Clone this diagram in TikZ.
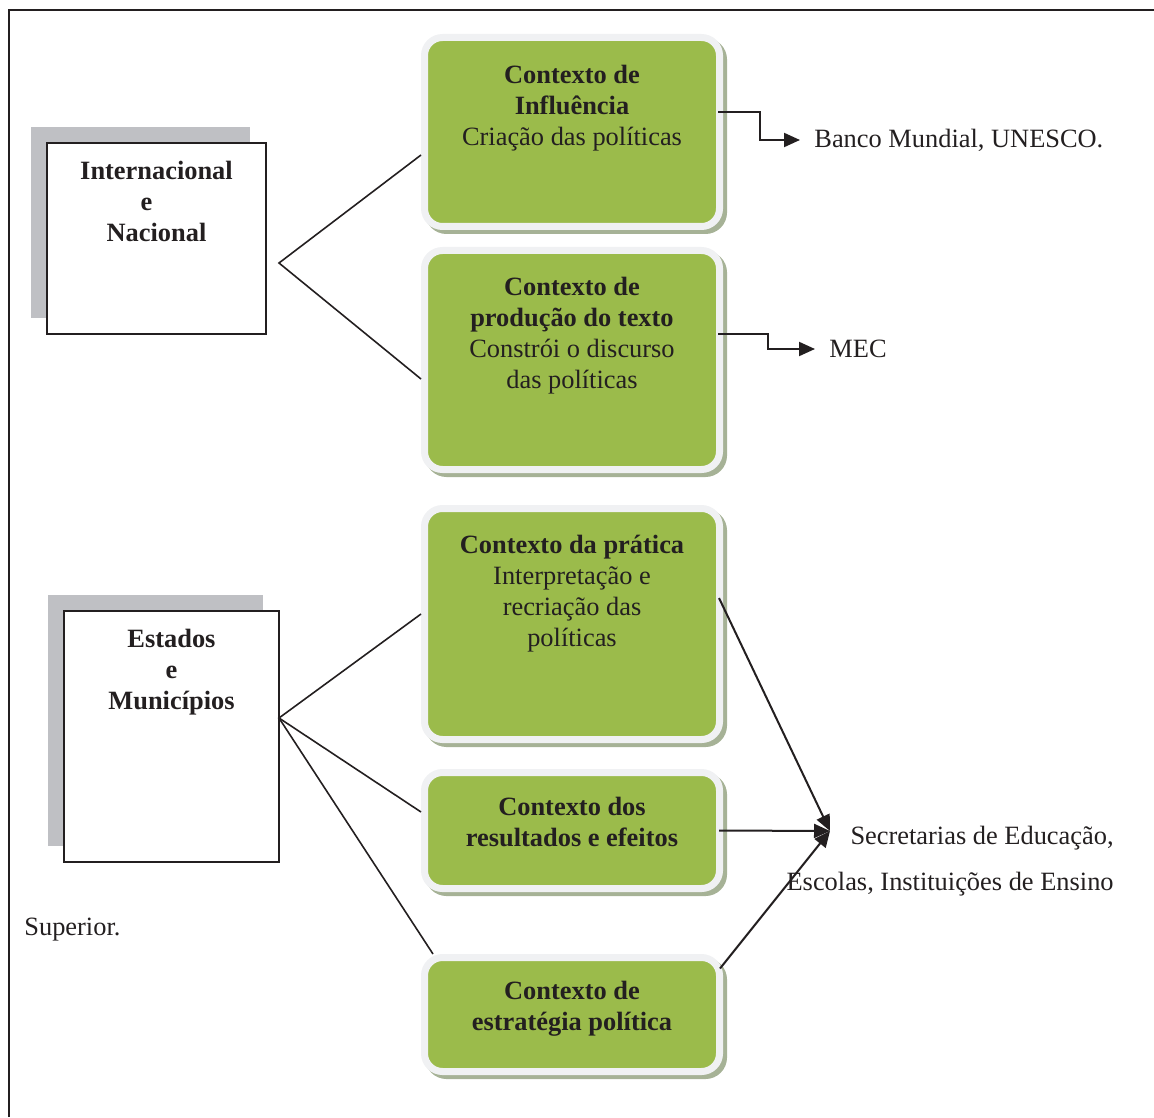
\documentclass[tikz,border=0pt]{standalone}
\usepackage{fontspec}
\setmainfont{Liberation Serif}
\usetikzlibrary{positioning,shadows,arrows.meta}
\definecolor{verde}{RGB}{155,187,75}
\definecolor{borda}{RGB}{240,241,243}
\definecolor{sombra}{RGB}{166,178,150}
\definecolor{cinza}{RGB}{191,192,196}
\definecolor{tinta}{RGB}{35,31,32}
\newcommand\tamanho{\fontsize{13.2pt}{15.5pt}\selectfont}

\begin{document}
\begin{tikzpicture}
  [x=0.5pt,y=-0.5pt,
   contexto/.style={rectangle,rounded corners=9pt,fill=verde,draw=borda,line width=3.5pt,minimum width=147.5pt,
     drop shadow={shadow xshift=2pt,shadow yshift=-2pt,fill=sombra,draw=sombra,line width=3.5pt,opacity=1}},
   nivel/.style={rectangle,fill=white,draw=tinta,line width=1pt,
     drop shadow={shadow xshift=-8pt,shadow yshift=8pt,fill=cinza,opacity=1}},
   texto/.style={align=center,inner sep=0pt,text=tinta,font=\tamanho},
   titulo/.style={texto,font=\tamanho\bfseries},
   linha/.style={draw=tinta,line width=0.8pt},
   seta/.style={draw=tinta,line width=1pt,-{Triangle[length=8pt,width=7pt]}}]
  \useasboundingbox (0,0) rectangle (1154,1117);
  \draw[tinta,line width=1pt] (9,1117) -- (9,10) -- (1154,10);

  % niveis
  \node[nivel,minimum width=109.5pt,minimum height=95.5pt] (intl) at (156.5,238.5) {};
  \node[titulo,below=9.25pt of intl.north] {Internacional\\e\rule{10pt}{0pt}\\Nacional};
  \node[nivel,minimum width=107.5pt,minimum height=125.5pt] (estados) at (171.5,736.5) {};
  \node[titulo,below=9.5pt of estados.north] {Estados\\e\\Municípios};

  % contextos
  \node[contexto,minimum height=94.5pt] (influencia) at (572,132) {};
  \node[texto,below=15.5pt of influencia.north] {\textbf{Contexto de}\\\textbf{Influência}\\Criação das políticas};
  \node[contexto,minimum height=109.5pt] (producao) at (572,360) {};
  \node[texto,below=15pt of producao.north] {\textbf{Contexto de}\\\textbf{produção do texto}\\Constrói o discurso\\das políticas};
  \node[contexto,minimum height=115.5pt] (pratica) at (572,624) {};
  \node[texto,below=15pt of pratica.north] {\textbf{Contexto da prática}\\Interpretação e\\recriação das\\políticas};
  \node[contexto,minimum height=58pt] (resultados) at (572,830.5) {};
  \node[titulo,below=14pt of resultados.north] {Contexto dos\\resultados e efeitos};
  \node[contexto,minimum height=57pt] (estrategia) at (572,1014.5) {};
  \node[titulo,below=13.5pt of estrategia.north] {Contexto de\\estratégia política};

  \coordinate (vi) at (279,263);
  \coordinate (ve) at (279,718);
  \draw[linha] ([yshift=-11.5pt]influencia.west) -- (vi) -- ([yshift=-9.5pt]producao.west);
  \draw[linha] ([yshift=5pt]pratica.west) -- (ve) -- ([yshift=9.25pt]resultados.west);
  \draw[linha] (ve) -- ([xshift=6pt]estrategia.north west);

  % destinos
  \node[texto,anchor=west,inner sep=7pt] (banco) at (800,140) {Banco Mundial, UNESCO.};
  \node[texto,anchor=west,inner sep=7pt] (mec) at (815,349) {MEC};
  \draw[seta] ([xshift=-2.5pt,yshift=10pt]influencia.east) -- ++(42,0) |- (banco);
  \draw[seta] ([xshift=-2.5pt,yshift=13pt]producao.east) -- ++(50,0) |- (mec);

  \coordinate (alvo) at (830,831);
  \node[texto,align=right,anchor=north east] (secretarias) at (1114,826) {Secretarias de Educação,\\[7.5pt]Escolas, Instituições de Ensino};
  \node[texto,anchor=north west] (superior) at (24,918) {Superior.};
  \draw[seta] ([xshift=-2pt,yshift=13pt]pratica.east) -- (alvo);
  \draw[seta] ([xshift=-2pt]resultados.east) -- (alvo);
  \draw[seta] ([xshift=-1.5pt,yshift=23pt]estrategia.east) -- (alvo);
\end{tikzpicture}
\end{document}
